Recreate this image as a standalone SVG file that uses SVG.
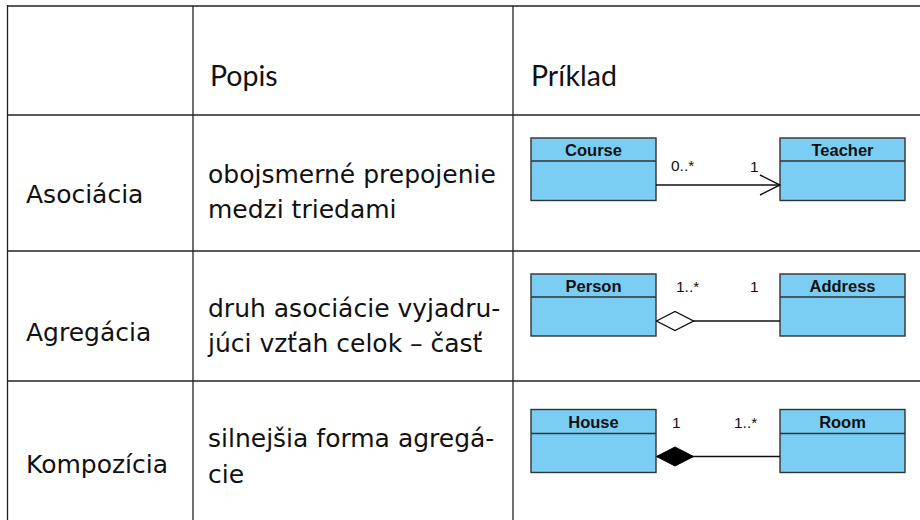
<svg xmlns="http://www.w3.org/2000/svg" width="920" height="520" viewBox="0 0 920 520">
<style>
.grid{stroke:#222;stroke-width:1.3;fill:none}
.hd{font-family:Lato,"Liberation Sans",sans-serif;font-size:28.5px;fill:#111}
.tx{font-family:"DejaVu Sans","Liberation Sans",sans-serif;font-size:25px;fill:#111}
.box{fill:#7ACEF3;stroke:#333;stroke-width:1.4}
.bt{font-family:"Liberation Sans",Arial,sans-serif;font-size:16.5px;font-weight:bold;fill:#111;text-anchor:middle}
.ml{font-family:"Liberation Sans",Arial,sans-serif;font-size:15.5px;fill:#111}
.cn{stroke:#111;stroke-width:1.4;fill:none}
</style>
<defs>
<marker id="open" viewBox="0 0 22 22" refX="21" refY="11" markerWidth="22" markerHeight="22" markerUnits="userSpaceOnUse" orient="auto">
<path d="M1,1 L21,11 L1,21" fill="none" stroke="#111" stroke-width="1.4"/>
</marker>
<marker id="hollow" viewBox="0 0 40 22" refX="1" refY="11" markerWidth="40" markerHeight="22" markerUnits="userSpaceOnUse" orient="auto">
<path d="M1,11 L19.5,1.5 L38,11 L19.5,20.5 Z" fill="#fff" stroke="#111" stroke-width="1.4"/>
</marker>
<marker id="filled" viewBox="0 0 40 22" refX="1" refY="11" markerWidth="40" markerHeight="22" markerUnits="userSpaceOnUse" orient="auto">
<path d="M1,11 L19.5,1.5 L38,11 L19.5,20.5 Z" fill="#000" stroke="#000" stroke-width="1"/>
</marker>
</defs>
<rect width="920" height="520" fill="#fff"/>
<g id="table">
<line class="grid" x1="7.5" y1="6" x2="920" y2="6" stroke-width="2"/>
<line class="grid" x1="7.5" y1="115" x2="920" y2="115"/>
<line class="grid" x1="7.5" y1="251" x2="920" y2="251"/>
<line class="grid" x1="7.5" y1="381" x2="920" y2="381"/>
<line class="grid" x1="7.5" y1="5" x2="7.5" y2="520"/>
<line class="grid" x1="193" y1="6" x2="193" y2="520"/>
<line class="grid" x1="513" y1="6" x2="513" y2="520"/>
</g>
<g id="header">
<text class="hd" x="210" y="86">Popis</text>
<text class="hd" x="531" y="86">Príklad</text>
</g>
<g id="row-asociacia">
<text class="tx" x="26" y="203">Asociácia</text>
<text class="tx" x="208" y="183">obojsmerné prepojenie</text>
<text class="tx" x="208" y="218">medzi triedami</text>
</g>
<g id="row-agregacia">
<text class="tx" x="26" y="341">Agregácia</text>
<text class="tx" x="208" y="317">druh asociácie vyjadru-</text>
<text class="tx" x="208" y="352">júci vzťah celok – časť</text>
</g>
<g id="row-kompozicia">
<text class="tx" x="26" y="473">Kompozícia</text>
<text class="tx" x="208" y="447">silnejšia forma agregá-</text>
<text class="tx" x="208" y="483">cie</text>
</g>
<g id="course">
<rect class="box" x="531" y="138" width="125" height="62.5"/>
<line class="box" x1="531" y1="161" x2="656" y2="161"/>
<text class="bt" x="593.5" y="156">Course</text>
</g>
<g id="teacher">
<rect class="box" x="780" y="138" width="125" height="62.5"/>
<line class="box" x1="780" y1="161" x2="905" y2="161"/>
<text class="bt" x="842.5" y="156">Teacher</text>
</g>
<g id="person">
<rect class="box" x="531" y="274" width="125" height="62"/>
<line class="box" x1="531" y1="297" x2="656" y2="297"/>
<text class="bt" x="593.5" y="292">Person</text>
</g>
<g id="address">
<rect class="box" x="780" y="274" width="125" height="62"/>
<line class="box" x1="780" y1="297" x2="905" y2="297"/>
<text class="bt" x="842.5" y="292">Address</text>
</g>
<g id="house">
<rect class="box" x="531" y="409.5" width="125" height="63"/>
<line class="box" x1="531" y1="433.5" x2="656" y2="433.5"/>
<text class="bt" x="593.5" y="428">House</text>
</g>
<g id="room">
<rect class="box" x="780" y="409.5" width="125" height="63"/>
<line class="box" x1="780" y1="433.5" x2="905" y2="433.5"/>
<text class="bt" x="842.5" y="428">Room</text>
</g>
<g id="connectors">
<line class="cn" x1="656" y1="185" x2="780" y2="185" marker-end="url(#open)"/>
<text class="ml" x="671" y="171">0..*</text>
<text class="ml" x="750" y="172">1</text>
<line class="cn" x1="656.5" y1="321" x2="780" y2="321" marker-start="url(#hollow)"/>
<text class="ml" x="676" y="292">1..*</text>
<text class="ml" x="750" y="292">1</text>
<line class="cn" x1="656.5" y1="456.5" x2="780" y2="456.5" marker-start="url(#filled)"/>
<text class="ml" x="672" y="428">1</text>
<text class="ml" x="734" y="428">1..*</text>
</g>
</svg>
